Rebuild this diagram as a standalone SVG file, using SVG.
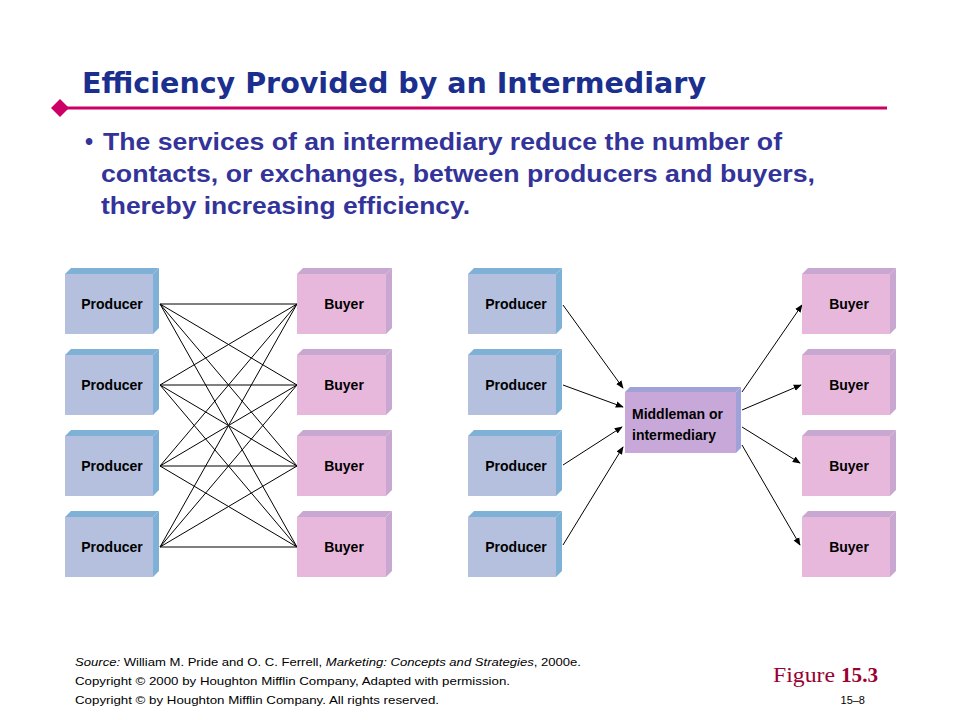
<svg xmlns="http://www.w3.org/2000/svg" width="960" height="720" viewBox="0 0 960 720">
<defs>
<style>
.title{font-family:"DejaVu Sans","Liberation Sans",sans-serif;font-weight:bold;font-size:28px;fill:#1b2f8f}
.bul{font-family:"Liberation Sans",Arial,sans-serif;font-weight:bold;font-size:23px;fill:#333399}
.lbl{font-family:"Liberation Sans",Arial,sans-serif;font-weight:bold;font-size:14px;fill:#000}
.foot{font-family:"Liberation Sans",Arial,sans-serif;font-size:11px;fill:#000}
.pf{fill:#b4c0de}.ps{fill:#7fb0d5}
.bf{fill:#e8b8dc}.bs{fill:#c8a8d0}
.mf{fill:#c8a8d8}.ms{fill:#9ea2d8}
.ln{stroke:#000;stroke-width:1;fill:none}
.ar{stroke:#000;stroke-width:1;fill:none;marker-end:url(#ah)}
</style>
<marker id="ah" viewBox="0 0 10 10" refX="9" refY="5" markerWidth="8" markerHeight="8" markerUnits="userSpaceOnUse" orient="auto">
<path d="M0,1 L10,5 L0,9 Z" fill="#000"/>
</marker>
</defs>
<rect width="960" height="720" fill="#fff"/>

<text class="title" x="82" y="93" textLength="624" lengthAdjust="spacingAndGlyphs">Efficiency Provided by an Intermediary</text>
<line x1="60" y1="108" x2="887" y2="108" stroke="#cc0066" stroke-width="3"/>
<polygon points="60,99 69,108 60,117 51,108" fill="#cc0066"/>

<text class="bul" x="85" y="150">•</text>
<text class="bul" x="103" y="150" textLength="679" lengthAdjust="spacingAndGlyphs">The services of an intermediary reduce the number of</text>
<text class="bul" x="101" y="182" textLength="714" lengthAdjust="spacingAndGlyphs">contacts, or exchanges, between producers and buyers,</text>
<text class="bul" x="101" y="214" textLength="369" lengthAdjust="spacingAndGlyphs">thereby increasing efficiency.</text>

<g id="connectors">
<line class="ln" x1="160" y1="304" x2="297" y2="304"/>
<line class="ln" x1="160" y1="304" x2="297" y2="385"/>
<line class="ln" x1="160" y1="304" x2="297" y2="466"/>
<line class="ln" x1="160" y1="304" x2="297" y2="547"/>
<line class="ln" x1="160" y1="385" x2="297" y2="304"/>
<line class="ln" x1="160" y1="385" x2="297" y2="385"/>
<line class="ln" x1="160" y1="385" x2="297" y2="466"/>
<line class="ln" x1="160" y1="385" x2="297" y2="547"/>
<line class="ln" x1="160" y1="466" x2="297" y2="304"/>
<line class="ln" x1="160" y1="466" x2="297" y2="385"/>
<line class="ln" x1="160" y1="466" x2="297" y2="466"/>
<line class="ln" x1="160" y1="466" x2="297" y2="547"/>
<line class="ln" x1="160" y1="547" x2="297" y2="304"/>
<line class="ln" x1="160" y1="547" x2="297" y2="385"/>
<line class="ln" x1="160" y1="547" x2="297" y2="466"/>
<line class="ln" x1="160" y1="547" x2="297" y2="547"/>

<line class="ar" x1="563" y1="305" x2="623" y2="388"/>
<line class="ar" x1="563" y1="385" x2="623" y2="407"/>
<line class="ar" x1="563" y1="465" x2="622" y2="427"/>
<line class="ar" x1="563" y1="545" x2="623" y2="447"/>
<line class="ar" x1="742" y1="392" x2="802" y2="305"/>
<line class="ar" x1="742" y1="410" x2="801" y2="385"/>
<line class="ar" x1="742" y1="427" x2="800" y2="463"/>
<line class="ar" x1="742" y1="445" x2="800" y2="545"/>
</g>

<g id="producerL1" transform="translate(65,274)"><polygon class="ps" points="0,0 6,-6 94,-6 88,0"/><polygon class="ps" points="88,0 94,-6 94,54 88,60"/><rect class="pf" width="88" height="60"/><text class="lbl" x="47" y="35" text-anchor="middle">Producer</text></g>
<g id="producerL2" transform="translate(65,355)"><polygon class="ps" points="0,0 6,-6 94,-6 88,0"/><polygon class="ps" points="88,0 94,-6 94,54 88,60"/><rect class="pf" width="88" height="60"/><text class="lbl" x="47" y="35" text-anchor="middle">Producer</text></g>
<g id="producerL3" transform="translate(65,436)"><polygon class="ps" points="0,0 6,-6 94,-6 88,0"/><polygon class="ps" points="88,0 94,-6 94,54 88,60"/><rect class="pf" width="88" height="60"/><text class="lbl" x="47" y="35" text-anchor="middle">Producer</text></g>
<g id="producerL4" transform="translate(65,517)"><polygon class="ps" points="0,0 6,-6 94,-6 88,0"/><polygon class="ps" points="88,0 94,-6 94,54 88,60"/><rect class="pf" width="88" height="60"/><text class="lbl" x="47" y="35" text-anchor="middle">Producer</text></g>

<g id="buyerL1" transform="translate(297,274)"><polygon class="bs" points="0,0 6,-6 95,-6 89,0"/><polygon class="bs" points="89,0 95,-6 95,54 89,60"/><rect class="bf" width="89" height="60"/><text class="lbl" x="47" y="35" text-anchor="middle">Buyer</text></g>
<g id="buyerL2" transform="translate(297,355)"><polygon class="bs" points="0,0 6,-6 95,-6 89,0"/><polygon class="bs" points="89,0 95,-6 95,54 89,60"/><rect class="bf" width="89" height="60"/><text class="lbl" x="47" y="35" text-anchor="middle">Buyer</text></g>
<g id="buyerL3" transform="translate(297,436)"><polygon class="bs" points="0,0 6,-6 95,-6 89,0"/><polygon class="bs" points="89,0 95,-6 95,54 89,60"/><rect class="bf" width="89" height="60"/><text class="lbl" x="47" y="35" text-anchor="middle">Buyer</text></g>
<g id="buyerL4" transform="translate(297,517)"><polygon class="bs" points="0,0 6,-6 95,-6 89,0"/><polygon class="bs" points="89,0 95,-6 95,54 89,60"/><rect class="bf" width="89" height="60"/><text class="lbl" x="47" y="35" text-anchor="middle">Buyer</text></g>

<g id="producerR1" transform="translate(468,274)"><polygon class="ps" points="0,0 6,-6 94,-6 88,0"/><polygon class="ps" points="88,0 94,-6 94,54 88,60"/><rect class="pf" width="88" height="60"/><text class="lbl" x="48" y="35" text-anchor="middle">Producer</text></g>
<g id="producerR2" transform="translate(468,355)"><polygon class="ps" points="0,0 6,-6 94,-6 88,0"/><polygon class="ps" points="88,0 94,-6 94,54 88,60"/><rect class="pf" width="88" height="60"/><text class="lbl" x="48" y="35" text-anchor="middle">Producer</text></g>
<g id="producerR3" transform="translate(468,436)"><polygon class="ps" points="0,0 6,-6 94,-6 88,0"/><polygon class="ps" points="88,0 94,-6 94,54 88,60"/><rect class="pf" width="88" height="60"/><text class="lbl" x="48" y="35" text-anchor="middle">Producer</text></g>
<g id="producerR4" transform="translate(468,517)"><polygon class="ps" points="0,0 6,-6 94,-6 88,0"/><polygon class="ps" points="88,0 94,-6 94,54 88,60"/><rect class="pf" width="88" height="60"/><text class="lbl" x="48" y="35" text-anchor="middle">Producer</text></g>

<g id="middleman" transform="translate(625,392)"><polygon class="ms" points="0,0 5,-5 116,-5 111,0"/><polygon class="ms" points="111,0 116,-5 116,56 111,61"/><rect class="mf" width="111" height="61"/><text class="lbl" x="7" y="27">Middleman or</text><text class="lbl" x="7" y="48">intermediary</text></g>

<g id="buyerR1" transform="translate(802,274)"><polygon class="bs" points="0,0 6,-6 94,-6 88,0"/><polygon class="bs" points="88,0 94,-6 94,54 88,60"/><rect class="bf" width="88" height="60"/><text class="lbl" x="47" y="35" text-anchor="middle">Buyer</text></g>
<g id="buyerR2" transform="translate(802,355)"><polygon class="bs" points="0,0 6,-6 94,-6 88,0"/><polygon class="bs" points="88,0 94,-6 94,54 88,60"/><rect class="bf" width="88" height="60"/><text class="lbl" x="47" y="35" text-anchor="middle">Buyer</text></g>
<g id="buyerR3" transform="translate(802,436)"><polygon class="bs" points="0,0 6,-6 94,-6 88,0"/><polygon class="bs" points="88,0 94,-6 94,54 88,60"/><rect class="bf" width="88" height="60"/><text class="lbl" x="47" y="35" text-anchor="middle">Buyer</text></g>
<g id="buyerR4" transform="translate(802,517)"><polygon class="bs" points="0,0 6,-6 94,-6 88,0"/><polygon class="bs" points="88,0 94,-6 94,54 88,60"/><rect class="bf" width="88" height="60"/><text class="lbl" x="47" y="35" text-anchor="middle">Buyer</text></g>

<text class="foot" x="75" y="666" textLength="506" lengthAdjust="spacingAndGlyphs"><tspan font-style="italic">Source:</tspan> William M. Pride and O. C. Ferrell, <tspan font-style="italic">Marketing: Concepts and Strategies</tspan>, 2000e.</text>
<text class="foot" x="75" y="685" textLength="435" lengthAdjust="spacingAndGlyphs">Copyright © 2000  by Houghton Mifflin Company, Adapted with permission.</text>
<text class="foot" x="75" y="704" textLength="364" lengthAdjust="spacingAndGlyphs">Copyright © by Houghton Mifflin Company. All rights reserved.</text>
<text class="foot" x="865" y="704" text-anchor="end" font-size="12">15–8</text>
<text x="773" y="682" font-family="Liberation Serif,'Times New Roman',serif" fill="#990033" font-size="22" textLength="62" lengthAdjust="spacingAndGlyphs">Figure</text>
<text x="841" y="682" font-family="Liberation Serif,'Times New Roman',serif" fill="#990033" font-size="20" font-weight="bold" textLength="37" lengthAdjust="spacingAndGlyphs">15.3</text>
</svg>
